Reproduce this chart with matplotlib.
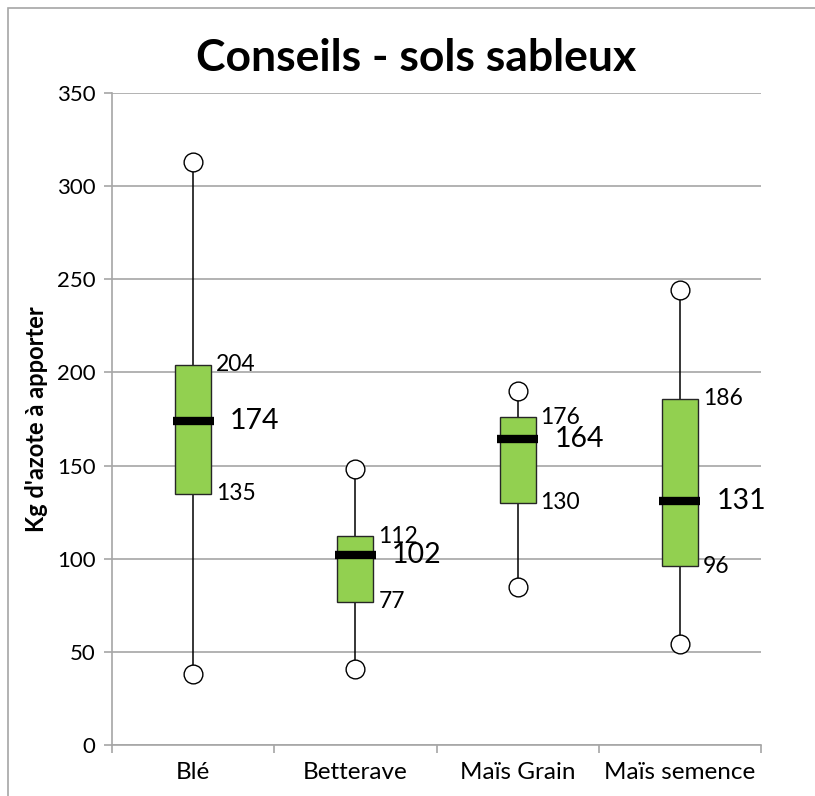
import matplotlib.pyplot as plt
from matplotlib.patches import Rectangle

plt.rcParams['font.family'] = ['Lato', 'DejaVu Sans']

categories = ['Blé', 'Betterave', 'Maïs Grain', 'Maïs semence']
mins = [38, 41, 85, 54]
q1s = [135, 77, 130, 96]
medians = [174, 102, 164, 131]
q3s = [204, 112, 176, 186]
maxs = [313, 148, 190, 244]

W, H = 815, 796
fig = plt.figure(figsize=(W / 100, H / 100), dpi=100)
ax = fig.add_axes([112 / W, (H - 745) / H, (761 - 112) / W, (745 - 93) / H])

# cadre gris du graphique (seuls les bords gauche et haut sont visibles)
fig.patches.append(Rectangle((8 / W, -0.1), 1.2, (H - 8) / H + 0.1,
                             transform=fig.transFigure, fill=False,
                             edgecolor='#a6a6a6', linewidth=1.2))

x = list(range(len(categories)))
box_w = 36 / 162
med_w = 41 / 162

ax.vlines(x, mins, maxs, color='black', linewidth=1.1, zorder=2)
ax.bar(x, [b - a for a, b in zip(q1s, q3s)], bottom=q1s, width=box_w,
       color='#92d050', edgecolor='#262626', linewidth=1.0, zorder=3)
for xi, m in zip(x, medians):
    ax.plot([xi - med_w / 2, xi + med_w / 2], [m, m], color='black',
            linewidth=6, solid_capstyle='butt', zorder=4)
ax.plot(x, mins, 'o', ms=13.5, mfc='white', mec='black', mew=1.0, zorder=5)
ax.plot(x, maxs, 'o', ms=13.5, mfc='white', mec='black', mew=1.0, zorder=5)

for xi, a, m, b in zip(x, q1s, medians, q3s):
    xr = xi + box_w / 2
    ax.annotate(str(b), (xr, b), xytext=(3.5, 0), textcoords='offset points',
                ha='left', va='center', fontsize=16.5, zorder=6)
    ax.annotate(str(a), (xr, a), xytext=(3.5, 0), textcoords='offset points',
                ha='left', va='center', fontsize=16.5, zorder=6)
    ax.annotate(str(m), (xr, m), xytext=(13.5, 0), textcoords='offset points',
                ha='left', va='center', fontsize=20.5, zorder=6)

ax.set_xlim(-0.5, len(categories) - 0.5)
ax.set_ylim(0, 350)
ax.set_yticks(range(0, 351, 50))
ax.set_xticks([i - 0.5 for i in range(len(categories) + 1)])
ax.set_xticklabels([])
ax.set_xticks(x, minor=True)
ax.set_xticklabels(categories, minor=True, fontsize=17.5)
ax.tick_params(axis='x', which='minor', length=0, pad=12)
ax.tick_params(axis='x', which='major', length=6, width=1.2, color='#a6a6a6')
ax.tick_params(axis='y', length=6, width=1.2, color='#a6a6a6', labelsize=16, pad=6)
ax.grid(axis='y', color='#a6a6a6', linewidth=1.2)
ax.set_axisbelow(True)
for s in ['top', 'right']:
    ax.spines[s].set_visible(False)
for s in ['left', 'bottom']:
    ax.spines[s].set_color('#a6a6a6')
    ax.spines[s].set_linewidth(1.2)

ax.set_ylabel("Kg d'azote à apporter", fontsize=17, fontweight='bold', labelpad=6)
fig.text(416 / W, 1 - 58 / H, 'Conseils - sols sableux', ha='center', va='center',
         fontsize=32, fontweight='bold')

fig.savefig('out.png', dpi=100)
